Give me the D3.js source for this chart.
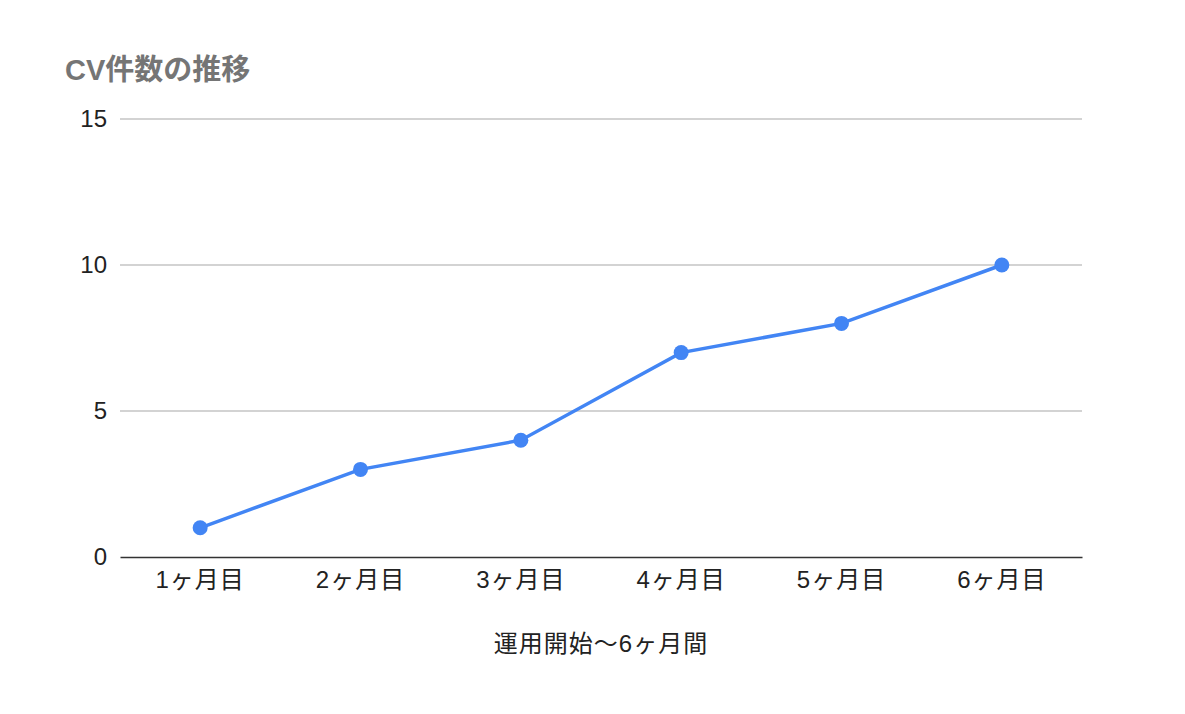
<!DOCTYPE html>
<html><head><meta charset="utf-8">
<script src="https://cdn.jsdelivr.net/npm/d3@7"></script>
<style>
body{margin:0;background:#fff;}
text{font-family:"Liberation Sans",Arial,"Noto Sans CJK JP",sans-serif;}
</style></head>
<body><svg id="c" width="1185" height="714"></svg>
<script>
const categories=["1ヶ月目","2ヶ月目","3ヶ月目","4ヶ月目","5ヶ月目","6ヶ月目"];
const values=[1,3,4,7,8,10];
const yTicks=[0,5,10,15];
const title="CV件数の推移";
const xTitle="運用開始〜6ヶ月間";

const svg=d3.select("#c");
const m={l:120,r:1082,t:119,b:557};
const x=d3.scaleBand().domain(categories).range([m.l,m.r]);
const y=d3.scaleLinear().domain([0,15]).range([m.b,m.t]);

svg.append("rect").attr("width",1185).attr("height",714).attr("fill","#fff");
svg.append("text").attr("x",65).attr("y",80).attr("font-size",29).attr("font-weight","bold").attr("fill","#757575").text(title);

const g=svg.append("g");
g.selectAll("line.grid").data(yTicks.filter(d=>d>0)).join("line")
 .attr("x1",m.l).attr("x2",m.r).attr("y1",d=>y(d)).attr("y2",d=>y(d))
 .attr("stroke","#c4c4c4").attr("stroke-width",1.3);
const ya=svg.append("g").attr("transform",`translate(${m.l},0)`)
 .call(d3.axisLeft(y).tickValues(yTicks).tickSize(0).tickPadding(13));
ya.select(".domain").remove();
ya.selectAll("text").attr("font-size",24).attr("fill","#222").attr("font-family",null);

const xa=svg.append("g").attr("transform",`translate(0,${m.b})`)
 .call(d3.axisBottom(x).tickSize(0).tickPadding(14));
xa.select(".domain").attr("stroke","#333").attr("stroke-width",1.5);
xa.selectAll("text").attr("font-size",24).attr("fill","#222").attr("font-family",null).attr("letter-spacing",1);

svg.append("text").attr("x",(m.l+m.r)/2).attr("y",652).attr("text-anchor","middle")
 .attr("font-size",24).attr("fill","#222").attr("letter-spacing",1).text(xTitle);

const line=d3.line().x((d,i)=>x(categories[i])+x.bandwidth()/2).y(d=>y(d));
svg.append("path").datum(values).attr("d",line).attr("fill","none").attr("stroke","#4285F4").attr("stroke-width",3.5);
svg.selectAll("circle").data(values).join("circle")
 .attr("cx",(d,i)=>x(categories[i])+x.bandwidth()/2).attr("cy",d=>y(d)).attr("r",7.5).attr("fill","#4285F4");
</script></body></html>
